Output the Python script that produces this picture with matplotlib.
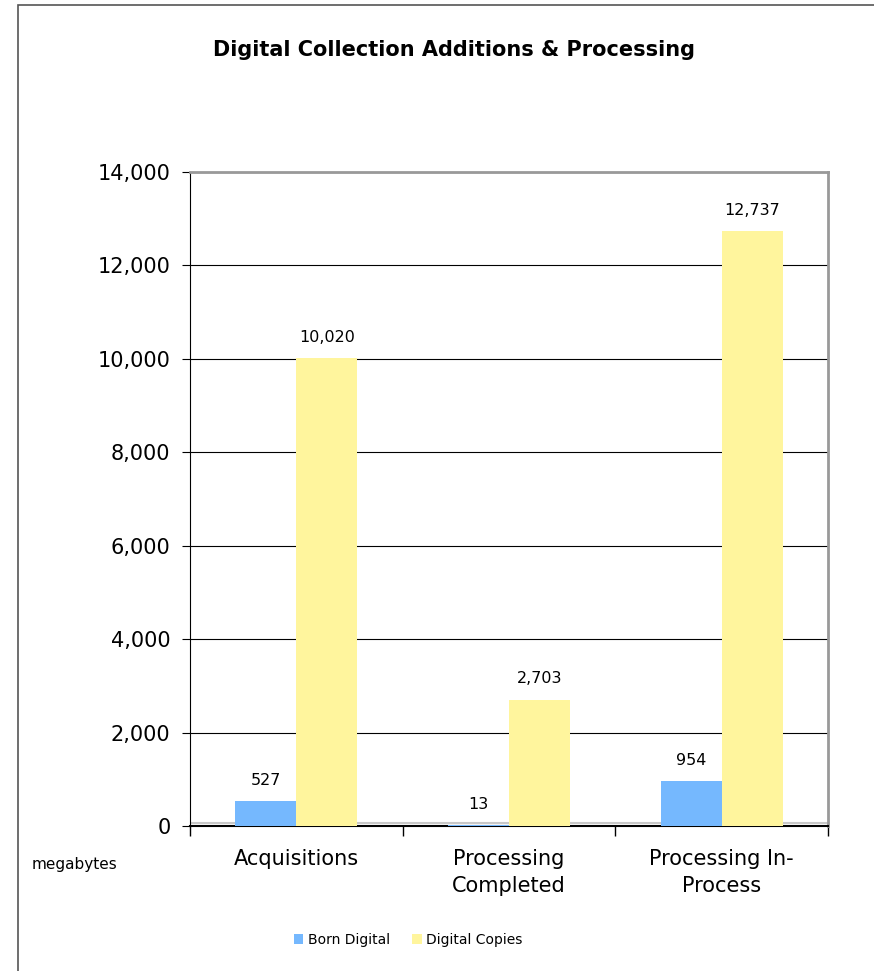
import numpy as np
import matplotlib
matplotlib.use("Agg")
import matplotlib.pyplot as plt
from matplotlib.patches import Rectangle
from matplotlib.ticker import FuncFormatter

categories = ["Acquisitions", "Processing\nCompleted", "Processing In-\nProcess"]
born_digital = [527, 13, 954]
digital_copies = [10020, 2703, 12737]
series_names = ["Born Digital", "Digital Copies"]
yticks = [0, 2000, 4000, 6000, 8000, 10000, 12000, 14000]

blue = "#75B8FE"
yellow = "#FFF59D"

plt.rcParams['font.family'] = ['DejaVu Sans']

fig = plt.figure(figsize=(8.74, 9.71), dpi=100)
ax = fig.add_axes([190/874, 1 - 826/971, 638/874, 654/971])

# outer chart border (only left/top visible in the crop)
fig.patches.append(Rectangle((18/874, -0.1), 1.2, 1 - 5/971 + 0.1,
                             transform=fig.transFigure, fill=False,
                             edgecolor="#555555", linewidth=1.2))

x = np.arange(len(categories))
w = 0.287

# grey "floor" just above the axis line
ax.axhline(55, color="#c8c8c8", linewidth=1.5, zorder=1)
b1 = ax.bar(x - w/2, born_digital, w, color=blue, label=series_names[0], zorder=3)
b2 = ax.bar(x + w/2, digital_copies, w, color=yellow, label=series_names[1], zorder=3)

for bars, vals in [(b1, born_digital), (b2, digital_copies)]:
    for rect, v in zip(bars, vals):
        ax.annotate(f"{v:,}", (rect.get_x() + rect.get_width()/2, v),
                    xytext=(0, 15), textcoords="offset points",
                    ha="center", va="center", fontsize=11.5)

ax.set_xlim(-0.5, 2.5)
ax.set_ylim(0, 14000)
ax.set_yticks(yticks)
ax.yaxis.set_major_formatter(FuncFormatter(lambda v, p: f"{int(v):,}"))
ax.tick_params(axis="y", labelsize=15, length=6, pad=8, direction="out")
ax.yaxis.grid(True, color="black", linewidth=0.8)
ax.set_axisbelow(True)

# category boundaries as ticks, labels in between
ax.set_xticks([-0.5, 0.5, 1.5, 2.5])
ax.set_xticklabels([])
ax.set_xticks(x, minor=True)
ax.set_xticklabels(categories, minor=True, fontsize=15, linespacing=1.45)
ax.tick_params(axis="x", which="major", length=7, width=1, direction="out")
ax.tick_params(axis="x", which="minor", length=0, pad=16.5)

for s in ["top", "right"]:
    ax.spines[s].set_color("#999999")
    ax.spines[s].set_linewidth(2)
ax.spines["left"].set_color("black")
ax.spines["bottom"].set_color("black")
ax.spines["bottom"].set_linewidth(1.5)

fig.text(454/874, 1 - 50/971, "Digital Collection Additions & Processing",
         ha="center", va="center", fontsize=15, fontweight="bold")
fig.text(32/874, 1 - 865/971, "megabytes", ha="left", va="center", fontsize=11)

fig.legend(handles=[b1, b2], loc="center", bbox_to_anchor=(408/874, 1 - 940/971),
           ncol=2, frameon=False, fontsize=10, handlelength=0.7, handleheight=0.7,
           handletextpad=0.3, columnspacing=1.6)

fig.savefig("out.png", dpi=100)
